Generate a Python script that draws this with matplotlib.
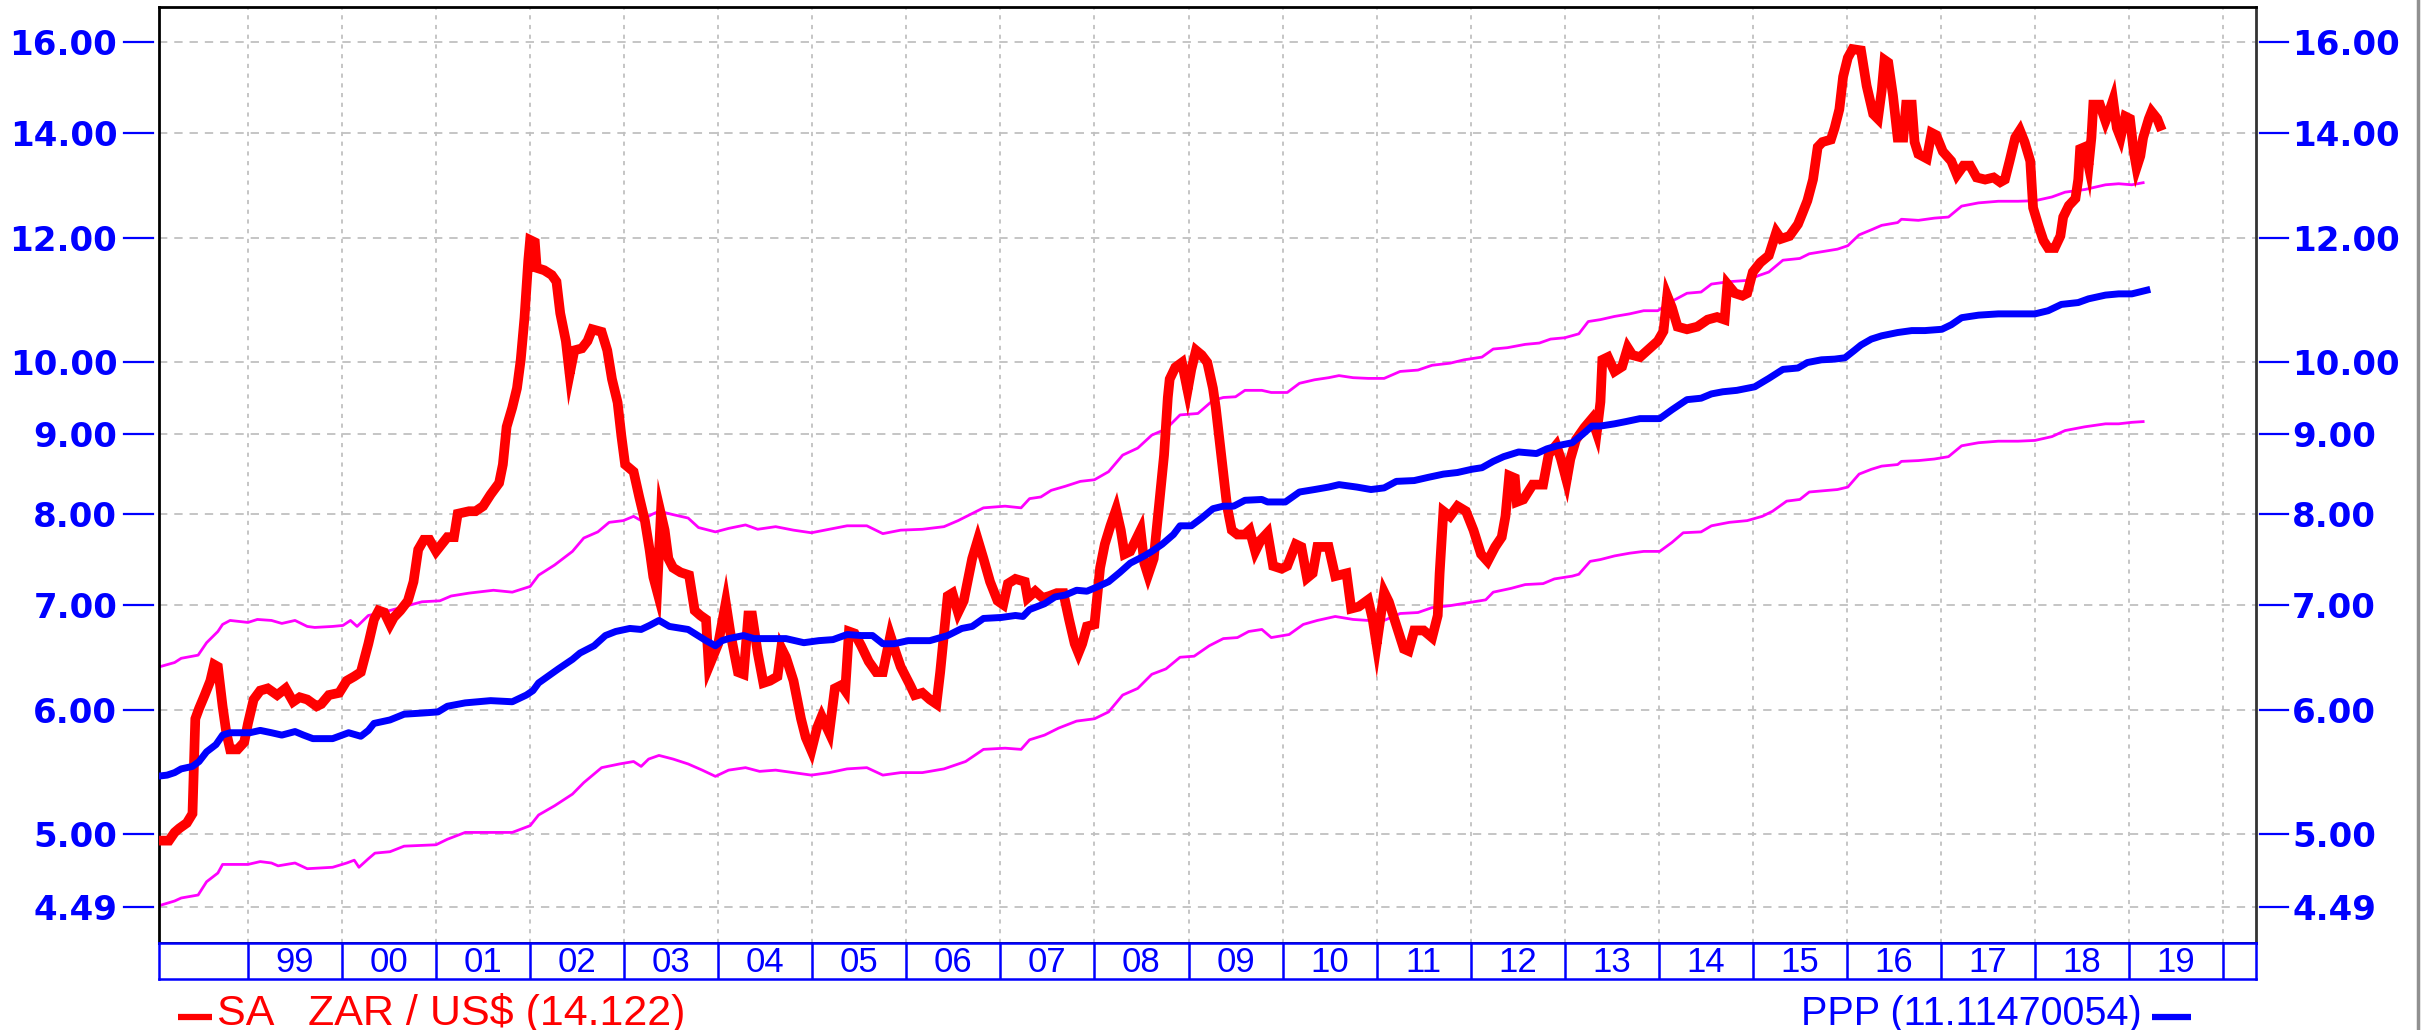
import matplotlib
matplotlib.use("Agg")
import matplotlib.pyplot as plt
import matplotlib.transforms as mtransforms
from matplotlib.lines import Line2D
from matplotlib.ticker import NullLocator

plt.rcParams['lines.scale_dashes'] = False

# ---------------- data (decimal years) ----------------
zar_dates = [1998.03, 1998.16, 1998.22, 1998.27, 1998.35, 1998.41, 1998.44, 1998.48, 1998.54, 1998.60,
             1998.64, 1998.68, 1998.73, 1998.77, 1998.81, 1998.89, 1998.96, 1999.00, 1999.06, 1999.13,
             1999.21, 1999.31, 1999.40, 1999.48, 1999.55, 1999.63, 1999.73, 1999.78, 1999.86, 1999.97,
             2000.05, 2000.13, 2000.20, 2000.28, 2000.34, 2000.39, 2000.45, 2000.51, 2000.55, 2000.62,
             2000.70, 2000.76, 2000.81, 2000.87, 2000.93, 2001.00, 2001.06, 2001.12, 2001.19, 2001.23,
             2001.35, 2001.42, 2001.50, 2001.58, 2001.67, 2001.71, 2001.75, 2001.81, 2001.86, 2001.90,
             2001.94, 2001.98, 2002.00, 2002.05, 2002.07, 2002.15, 2002.23, 2002.28, 2002.32, 2002.38,
             2002.42, 2002.47, 2002.55, 2002.61, 2002.66, 2002.76, 2002.82, 2002.87, 2002.93, 2002.97,
             2003.01, 2003.10, 2003.16, 2003.22, 2003.27, 2003.31, 2003.35, 2003.39, 2003.43, 2003.47,
             2003.52, 2003.60, 2003.69, 2003.75, 2003.81, 2003.87, 2003.90, 2004.00, 2004.08, 2004.13,
             2004.21, 2004.27, 2004.32, 2004.36, 2004.42, 2004.48, 2004.55, 2004.63, 2004.67, 2004.72,
             2004.80, 2004.88, 2004.93, 2004.99, 2005.05, 2005.10, 2005.18, 2005.24, 2005.31, 2005.35,
             2005.39, 2005.45, 2005.52, 2005.60, 2005.68, 2005.75, 2005.83, 2005.89, 2005.94, 2006.04,
             2006.09, 2006.17, 2006.25, 2006.32, 2006.36, 2006.44, 2006.49, 2006.55, 2006.61, 2006.70,
             2006.76, 2006.82, 2006.89, 2006.97, 2007.03, 2007.08, 2007.16, 2007.26, 2007.29, 2007.37,
             2007.45, 2007.52, 2007.60, 2007.67, 2007.73, 2007.79, 2007.83, 2007.87, 2007.92, 2008.00,
             2008.06, 2008.11, 2008.17, 2008.23, 2008.28, 2008.32, 2008.38, 2008.44, 2008.49, 2008.53,
             2008.57, 2008.63, 2008.68, 2008.74, 2008.78, 2008.80, 2008.86, 2008.93, 2008.99, 2009.03,
             2009.08, 2009.14, 2009.20, 2009.26, 2009.29, 2009.33, 2009.37, 2009.41, 2009.46, 2009.52,
             2009.60, 2009.65, 2009.71, 2009.77, 2009.84, 2009.90, 2009.99, 2010.05, 2010.14, 2010.20,
             2010.26, 2010.32, 2010.37, 2010.49, 2010.56, 2010.68, 2010.73, 2010.81, 2010.91, 2010.96,
             2011.00, 2011.08, 2011.13, 2011.21, 2011.29, 2011.34, 2011.40, 2011.50, 2011.59, 2011.65,
             2011.67, 2011.71, 2011.78, 2011.86, 2011.95, 2012.03, 2012.11, 2012.18, 2012.26, 2012.33,
             2012.37, 2012.41, 2012.47, 2012.49, 2012.56, 2012.66, 2012.77, 2012.83, 2012.91, 2012.96,
             2013.02, 2013.06, 2013.12, 2013.21, 2013.29, 2013.34, 2013.38, 2013.40, 2013.46, 2013.53,
             2013.61, 2013.67, 2013.72, 2013.80, 2013.88, 2013.99, 2014.05, 2014.09, 2014.14, 2014.20,
             2014.30, 2014.41, 2014.52, 2014.62, 2014.70, 2014.73, 2014.81, 2014.89, 2014.94, 2015.00,
             2015.08, 2015.17, 2015.25, 2015.30, 2015.39, 2015.48, 2015.53, 2015.58, 2015.64, 2015.69,
             2015.74, 2015.83, 2015.87, 2015.92, 2015.96, 2016.01, 2016.06, 2016.15, 2016.21, 2016.28,
             2016.33, 2016.37, 2016.40, 2016.44, 2016.49, 2016.54, 2016.60, 2016.63, 2016.69, 2016.72,
             2016.76, 2016.85, 2016.90, 2016.95, 2017.02, 2017.11, 2017.17, 2017.24, 2017.31, 2017.38,
             2017.47, 2017.56, 2017.63, 2017.68, 2017.73, 2017.79, 2017.84, 2017.89, 2017.95, 2017.98,
             2018.04, 2018.09, 2018.14, 2018.21, 2018.27, 2018.30, 2018.36, 2018.43, 2018.46, 2018.48,
             2018.53, 2018.57, 2018.60, 2018.62, 2018.69, 2018.75, 2018.78, 2018.83, 2018.87, 2018.91,
             2018.96, 2019.01, 2019.05, 2019.08, 2019.12, 2019.15, 2019.21, 2019.24, 2019.30, 2019.33]
zar_values = [4.95, 4.95, 5.01, 5.04, 5.08, 5.15, 5.92, 6.01, 6.13, 6.26,
              6.41, 6.39, 6.03, 5.80, 5.66, 5.66, 5.72, 5.88, 6.09, 6.17,
              6.19, 6.13, 6.19, 6.07, 6.11, 6.09, 6.03, 6.05, 6.13, 6.15,
              6.26, 6.30, 6.34, 6.61, 6.85, 6.94, 6.92, 6.80, 6.87, 6.94,
              7.04, 7.24, 7.59, 7.70, 7.70, 7.57, 7.65, 7.73, 7.73, 8.00,
              8.03, 8.03, 8.09, 8.23, 8.37, 8.60, 9.09, 9.35, 9.62, 10.03,
              10.67, 11.60, 11.96, 11.92, 11.48, 11.44, 11.36, 11.25, 10.74, 10.31,
              9.82, 10.17, 10.20, 10.31, 10.49, 10.45, 10.17, 9.75, 9.42, 8.97,
              8.60, 8.51, 8.20, 7.92, 7.59, 7.29, 7.14, 8.00, 7.81, 7.49,
              7.39, 7.34, 7.31, 6.94, 6.89, 6.85, 6.39, 6.61, 7.02, 6.71,
              6.34, 6.32, 6.89, 6.89, 6.52, 6.24, 6.26, 6.30, 6.57, 6.48,
              6.26, 5.92, 5.76, 5.65, 5.84, 5.94, 5.80, 6.19, 6.22, 6.17,
              6.73, 6.71, 6.59, 6.44, 6.34, 6.34, 6.69, 6.52, 6.39, 6.22,
              6.13, 6.15, 6.09, 6.05, 6.34, 7.09, 7.12, 6.92, 7.04, 7.49,
              7.70, 7.49, 7.24, 7.04, 7.00, 7.22, 7.27, 7.24, 7.07, 7.14,
              7.07, 7.09, 7.12, 7.12, 6.85, 6.61, 6.52, 6.61, 6.78, 6.80,
              7.39, 7.65, 7.86, 8.05, 7.81, 7.54, 7.57, 7.70, 7.81, 7.44,
              7.31, 7.49, 8.03, 8.72, 9.49, 9.75, 9.92, 9.99, 9.59, 9.89,
              10.17, 10.10, 9.99, 9.62, 9.35, 8.91, 8.48, 8.09, 7.81, 7.76,
              7.76, 7.81, 7.57, 7.70, 7.78, 7.41, 7.38, 7.41, 7.65, 7.62,
              7.28, 7.33, 7.62, 7.62, 7.30, 7.33, 6.96, 6.98, 7.05, 6.84,
              6.60, 7.13, 7.03, 6.79, 6.56, 6.54, 6.74, 6.74, 6.67, 6.89,
              7.33, 8.03, 7.97, 8.09, 8.03, 7.81, 7.54, 7.46, 7.62, 7.73,
              7.97, 8.46, 8.43, 8.14, 8.17, 8.35, 8.35, 8.73, 8.85, 8.67,
              8.40, 8.67, 8.92, 9.08, 9.20, 9.01, 9.43, 10.03, 10.07, 9.86,
              9.93, 10.21, 10.10, 10.07, 10.17, 10.31, 10.46, 11.02, 10.83, 10.53,
              10.49, 10.53, 10.64, 10.68, 10.64, 11.21, 11.06, 11.02, 11.06, 11.41,
              11.57, 11.69, 12.10, 11.98, 12.03, 12.24, 12.45, 12.67, 13.07, 13.71,
              13.81, 13.86, 14.10, 14.49, 15.20, 15.63, 15.83, 15.80, 15.00, 14.39,
              14.29, 14.89, 15.58, 15.52, 14.79, 13.90, 13.90, 14.59, 14.59, 13.81,
              13.57, 13.48, 14.00, 13.95, 13.62, 13.43, 13.16, 13.34, 13.34, 13.11,
              13.07, 13.11, 13.02, 13.07, 13.43, 13.90, 14.05, 13.81, 13.43, 12.54,
              12.20, 11.95, 11.82, 11.82, 12.03, 12.37, 12.58, 12.71, 13.07, 13.67,
              13.71, 13.34, 13.90, 14.59, 14.59, 14.24, 14.39, 14.69, 14.10, 13.90,
              14.34, 14.29, 13.62, 13.30, 13.53, 13.90, 14.29, 14.44, 14.29, 14.14]

ppp_dates = [1998.03, 1998.14, 1998.22, 1998.29, 1998.41, 1998.48, 1998.56, 1998.66, 1998.73, 1998.81,
             1998.90, 1999.02, 1999.13, 1999.25, 1999.36, 1999.50, 1999.59, 1999.69, 1999.90, 2000.07,
             2000.20, 2000.28, 2000.34, 2000.51, 2000.66, 2000.85, 2001.02, 2001.12, 2001.31, 2001.58,
             2001.81, 2001.96, 2002.03, 2002.09, 2002.30, 2002.45, 2002.53, 2002.68, 2002.80, 2002.91,
             2003.06, 2003.18, 2003.27, 2003.37, 2003.48, 2003.68, 2003.87, 2003.97, 2004.04, 2004.11,
             2004.27, 2004.38, 2004.57, 2004.72, 2004.91, 2005.07, 2005.22, 2005.37, 2005.52, 2005.64,
             2005.75, 2005.87, 2006.02, 2006.25, 2006.44, 2006.59, 2006.70, 2006.82, 2007.01, 2007.16,
             2007.24, 2007.31, 2007.47, 2007.58, 2007.69, 2007.81, 2007.92, 2008.04, 2008.15, 2008.27,
             2008.38, 2008.53, 2008.61, 2008.72, 2008.84, 2008.91, 2009.03, 2009.14, 2009.26, 2009.37,
             2009.48, 2009.60, 2009.78, 2009.84, 2010.03, 2010.18, 2010.34, 2010.49, 2010.60, 2010.79,
             2010.94, 2011.08, 2011.21, 2011.40, 2011.55, 2011.71, 2011.86, 2012.01, 2012.12, 2012.24,
             2012.35, 2012.51, 2012.70, 2012.81, 2012.92, 2013.08, 2013.19, 2013.29, 2013.38, 2013.53,
             2013.65, 2013.80, 2014.01, 2014.14, 2014.30, 2014.45, 2014.56, 2014.68, 2014.83, 2015.02,
             2015.17, 2015.32, 2015.48, 2015.58, 2015.73, 2015.87, 2015.98, 2016.08, 2016.15, 2016.26,
             2016.37, 2016.54, 2016.69, 2016.83, 2017.01, 2017.11, 2017.22, 2017.40, 2017.61, 2017.82,
             2018.00, 2018.14, 2018.28, 2018.46, 2018.57, 2018.75, 2018.89, 2019.03, 2019.19]
ppp_values = [5.44, 5.45, 5.47, 5.50, 5.52, 5.56, 5.64, 5.70, 5.78, 5.80,
              5.80, 5.80, 5.82, 5.80, 5.78, 5.81, 5.78, 5.75, 5.75, 5.80,
              5.77, 5.82, 5.88, 5.91, 5.96, 5.97, 5.98, 6.03, 6.06, 6.08,
              6.07, 6.13, 6.17, 6.24, 6.37, 6.46, 6.52, 6.59, 6.69, 6.73,
              6.76, 6.75, 6.79, 6.84, 6.78, 6.75, 6.64, 6.59, 6.64, 6.66,
              6.69, 6.66, 6.66, 6.66, 6.62, 6.64, 6.65, 6.70, 6.69, 6.69,
              6.61, 6.61, 6.64, 6.64, 6.69, 6.76, 6.78, 6.86, 6.87, 6.89,
              6.88, 6.95, 7.01, 7.08, 7.10, 7.15, 7.14, 7.19, 7.24, 7.34,
              7.44, 7.52, 7.57, 7.65, 7.76, 7.86, 7.86, 7.95, 8.06, 8.09,
              8.09, 8.16, 8.17, 8.14, 8.14, 8.26, 8.29, 8.32, 8.35, 8.32,
              8.29, 8.31, 8.39, 8.40, 8.44, 8.48, 8.50, 8.54, 8.56, 8.64,
              8.70, 8.76, 8.74, 8.80, 8.84, 8.88, 8.99, 9.10, 9.10, 9.13,
              9.16, 9.20, 9.20, 9.32, 9.46, 9.48, 9.54, 9.57, 9.59, 9.64,
              9.76, 9.89, 9.91, 9.99, 10.03, 10.04, 10.06, 10.17, 10.25, 10.34,
              10.39, 10.44, 10.47, 10.47, 10.49, 10.56, 10.67, 10.71, 10.73, 10.73,
              10.73, 10.78, 10.88, 10.91, 10.97, 11.03, 11.05, 11.05, 11.11]

upper_dates = [1998.06, 1998.22, 1998.29, 1998.47, 1998.56, 1998.68, 1998.73, 1998.81, 1999.00, 1999.10,
               1999.25, 1999.36, 1999.50, 1999.63, 1999.71, 1999.90, 2000.01, 2000.09, 2000.16, 2000.28,
               2000.43, 2000.66, 2000.85, 2001.04, 2001.16, 2001.35, 2001.61, 2001.81, 2002.00, 2002.09,
               2002.26, 2002.45, 2002.57, 2002.72, 2002.84, 2002.99, 2003.10, 2003.18, 2003.29, 2003.37,
               2003.52, 2003.68, 2003.79, 2003.97, 2004.11, 2004.29, 2004.42, 2004.61, 2004.80, 2004.99,
               2005.18, 2005.37, 2005.58, 2005.75, 2005.94, 2006.17, 2006.40, 2006.55, 2006.82, 2007.05,
               2007.22, 2007.31, 2007.43, 2007.54, 2007.69, 2007.85, 2008.00, 2008.15, 2008.30, 2008.46,
               2008.61, 2008.76, 2008.91, 2009.10, 2009.26, 2009.37, 2009.50, 2009.60, 2009.78, 2009.88,
               2010.05, 2010.18, 2010.34, 2010.49, 2010.60, 2010.75, 2010.91, 2011.08, 2011.25, 2011.44,
               2011.59, 2011.78, 2011.93, 2012.12, 2012.24, 2012.39, 2012.58, 2012.73, 2012.85, 2013.00,
               2013.15, 2013.25, 2013.38, 2013.53, 2013.69, 2013.84, 2013.99, 2014.14, 2014.30, 2014.45,
               2014.56, 2014.75, 2014.94, 2015.06, 2015.17, 2015.32, 2015.50, 2015.60, 2015.90, 2016.01,
               2016.13, 2016.26, 2016.37, 2016.54, 2016.58, 2016.76, 2016.93, 2017.08, 2017.22, 2017.40,
               2017.61, 2017.82, 2018.00, 2018.18, 2018.32, 2018.53, 2018.75, 2018.89, 2019.03, 2019.15]
upper_values = [6.39, 6.43, 6.47, 6.50, 6.62, 6.73, 6.80, 6.84, 6.82, 6.85,
                6.84, 6.81, 6.84, 6.78, 6.77, 6.78, 6.79, 6.84, 6.78, 6.89,
                6.92, 6.98, 7.03, 7.04, 7.09, 7.12, 7.15, 7.13, 7.19, 7.31,
                7.42, 7.57, 7.72, 7.79, 7.90, 7.92, 7.97, 7.92, 7.99, 8.03,
                7.99, 7.95, 7.84, 7.79, 7.83, 7.87, 7.82, 7.85, 7.81, 7.78,
                7.82, 7.86, 7.86, 7.77, 7.81, 7.82, 7.85, 7.92, 8.07, 8.09,
                8.07, 8.18, 8.20, 8.28, 8.33, 8.39, 8.41, 8.51, 8.72, 8.81,
                8.98, 9.06, 9.25, 9.27, 9.45, 9.49, 9.50, 9.59, 9.59, 9.56,
                9.56, 9.69, 9.74, 9.77, 9.80, 9.77, 9.76, 9.76, 9.86, 9.88,
                9.95, 9.98, 10.03, 10.07, 10.19, 10.21, 10.26, 10.28, 10.34, 10.36,
                10.42, 10.61, 10.64, 10.69, 10.73, 10.78, 10.78, 10.93, 11.06, 11.08,
                11.21, 11.25, 11.27, 11.35, 11.41, 11.61, 11.64, 11.72, 11.80, 11.86,
                12.05, 12.14, 12.22, 12.27, 12.33, 12.31, 12.35, 12.37, 12.57, 12.63,
                12.66, 12.66, 12.67, 12.74, 12.83, 12.88, 12.97, 12.99, 12.97, 13.01]

lower_dates = [1998.06, 1998.22, 1998.29, 1998.47, 1998.56, 1998.68, 1998.73, 1999.00, 1999.13, 1999.25,
               1999.32, 1999.50, 1999.63, 1999.90, 2000.05, 2000.13, 2000.18, 2000.28, 2000.35, 2000.51,
               2000.66, 2001.00, 2001.12, 2001.31, 2001.50, 2001.81, 2002.00, 2002.09, 2002.26, 2002.45,
               2002.57, 2002.76, 2002.95, 2003.10, 2003.18, 2003.26, 2003.37, 2003.52, 2003.68, 2003.83,
               2003.97, 2004.11, 2004.29, 2004.44, 2004.61, 2004.80, 2004.99, 2005.18, 2005.37, 2005.58,
               2005.75, 2005.94, 2006.17, 2006.40, 2006.63, 2006.82, 2007.05, 2007.22, 2007.31, 2007.47,
               2007.62, 2007.81, 2008.00, 2008.15, 2008.30, 2008.46, 2008.61, 2008.76, 2008.91, 2009.06,
               2009.22, 2009.37, 2009.52, 2009.64, 2009.78, 2009.88, 2010.07, 2010.22, 2010.37, 2010.56,
               2010.75, 2010.91, 2011.08, 2011.25, 2011.44, 2011.59, 2011.78, 2011.97, 2012.16, 2012.24,
               2012.43, 2012.58, 2012.77, 2012.89, 2013.08, 2013.15, 2013.27, 2013.38, 2013.53, 2013.69,
               2013.84, 2014.01, 2014.14, 2014.26, 2014.45, 2014.56, 2014.75, 2014.94, 2015.10, 2015.21,
               2015.36, 2015.50, 2015.60, 2015.90, 2016.01, 2016.13, 2016.26, 2016.37, 2016.54, 2016.58,
               2016.76, 2016.93, 2017.08, 2017.22, 2017.40, 2017.61, 2017.82, 2018.00, 2018.18, 2018.32,
               2018.53, 2018.75, 2018.89, 2019.03, 2019.15]
lower_values = [4.50, 4.53, 4.55, 4.57, 4.66, 4.72, 4.78, 4.78, 4.80, 4.79,
                4.77, 4.79, 4.75, 4.76, 4.79, 4.81, 4.76, 4.82, 4.86, 4.87,
                4.91, 4.92, 4.96, 5.01, 5.01, 5.01, 5.06, 5.14, 5.21, 5.30,
                5.39, 5.51, 5.54, 5.56, 5.52, 5.58, 5.61, 5.58, 5.54, 5.49,
                5.44, 5.49, 5.51, 5.48, 5.49, 5.47, 5.45, 5.47, 5.50, 5.51,
                5.45, 5.47, 5.47, 5.50, 5.56, 5.66, 5.67, 5.66, 5.74, 5.78,
                5.84, 5.90, 5.92, 5.98, 6.13, 6.19, 6.32, 6.37, 6.48, 6.49,
                6.59, 6.66, 6.67, 6.73, 6.75, 6.67, 6.70, 6.80, 6.84, 6.88,
                6.85, 6.84, 6.84, 6.91, 6.92, 6.97, 6.99, 7.02, 7.05, 7.13,
                7.17, 7.21, 7.22, 7.27, 7.30, 7.32, 7.46, 7.48, 7.52, 7.55,
                7.57, 7.57, 7.67, 7.78, 7.79, 7.86, 7.90, 7.92, 7.97, 8.03,
                8.15, 8.17, 8.26, 8.29, 8.32, 8.48, 8.54, 8.58, 8.60, 8.64,
                8.65, 8.67, 8.70, 8.84, 8.88, 8.90, 8.90, 8.91, 8.96, 9.04,
                9.09, 9.13, 9.13, 9.15, 9.16]

y_ticks = [4.49, 5.0, 6.0, 7.0, 8.0, 9.0, 10.0, 12.0, 14.0, 16.0]
y_tick_labels = ["4.49", "5.00", "6.00", "7.00", "8.00", "9.00", "10.00", "12.00", "14.00", "16.00"]
year_starts = list(range(1999, 2021))
year_labels = ["99", "00", "01", "02", "03", "04", "05", "06", "07", "08", "09", "10",
               "11", "12", "13", "14", "15", "16", "17", "18", "19"]
legend_left = "SA   ZAR / US$ (14.122)"
legend_right = "PPP (11.11470054)"

# ---------------- layout ----------------
W, H = 2428, 1030
fig = plt.figure(figsize=(W / 100, H / 100), dpi=100)
fig.patch.set_facecolor("white")
L, R, T, B = 159, 2256, 7, 943
BAND_B = 979
BLUE = "#0000ff"
RED = "#ff0000"
MAG = "#ff00ff"
GRID = "#c0c0c0"
TICK_FS = 24.5

ax = fig.add_axes([L / W, 1 - B / H, (R - L) / W, (B - T) / H])
ax.set_yscale("log")
XMIN, XMAX = 1998.054, 2020.35
YMIN, YMAX = 4.259, 16.84
ax.set_xlim(XMIN, XMAX)
ax.set_ylim(YMIN, YMAX)
ax.set_xticks([])
ax.yaxis.set_minor_locator(NullLocator())
ax.set_yticks(y_ticks)
ax.set_yticklabels(y_tick_labels)
ax.tick_params(axis="y", length=0, pad=30, labelcolor=BLUE, labelsize=TICK_FS)
for lbl in ax.get_yticklabels():
    lbl.set_fontweight("bold")
    lbl.set_fontfamily("DejaVu Sans")

ax2 = ax.twinx()
ax2.set_yscale("log")
ax2.set_ylim(YMIN, YMAX)
ax2.yaxis.set_minor_locator(NullLocator())
ax2.set_yticks(y_ticks)
ax2.set_yticklabels(y_tick_labels)
ax2.tick_params(axis="y", length=0, pad=26, labelcolor=BLUE, labelsize=TICK_FS)
for lbl in ax2.get_yticklabels():
    lbl.set_fontweight("bold")
    lbl.set_fontfamily("DejaVu Sans")
for a in (ax, ax2):
    for s in a.spines.values():
        s.set_visible(False)

for name in ("left", "top", "bottom"):
    ax.spines[name].set_visible(True)
    ax.spines[name].set_color("black")
    ax.spines[name].set_linewidth(2)
ax.spines["right"].set_visible(True)
ax.spines["right"].set_color("#333333")
ax.spines["right"].set_linewidth(2)

# grid
for v in y_ticks:
    ax.axhline(v, color=GRID, lw=1.3, dashes=(6, 5), zorder=0)
for yr in year_starts:
    ax.axvline(yr, color=GRID, lw=1.3, dashes=(3, 4), zorder=0)

# tick marks drawn outside the frame (they stop short of the frame)
axw = R - L
trans = mtransforms.blended_transform_factory(ax.transAxes, ax.transData)
for v in y_ticks:
    ax.add_line(Line2D([-(L - 124) / axw, -(L - 153) / axw], [v, v], transform=trans,
                       color=BLUE, lw=1.6, clip_on=False))
    ax.add_line(Line2D([1 + 4 / axw, 1 + 32 / axw], [v, v], transform=trans,
                       color=BLUE, lw=1.6, clip_on=False))

# series
ax.plot(upper_dates, upper_values, color=MAG, lw=2.0, zorder=2)
ax.plot(lower_dates, lower_values, color=MAG, lw=2.0, zorder=2)
ax.plot(zar_dates, zar_values, color=RED, lw=7.0, zorder=3, solid_joinstyle="miter")
ax.plot(ppp_dates, ppp_values, color=BLUE, lw=5.0, zorder=4)

# date band
bx = fig.add_axes([L / W, 1 - BAND_B / H, (R - L) / W, (BAND_B - B) / H])
bx.set_xlim(XMIN, XMAX)
bx.set_ylim(0, 1)
bx.set_xticks([])
bx.set_yticks([])
for s in bx.spines.values():
    s.set_color(BLUE)
    s.set_linewidth(1.8)
for yr in year_starts:
    bx.axvline(yr, color=BLUE, lw=1.8)
for yr, lab in zip(year_starts, year_labels):
    bx.text(yr + 0.5, 0.47, lab, ha="center", va="center", color=BLUE,
            fontsize=25, family="Liberation Sans")

# legend entries under the chart
fig.add_artist(Line2D([178 / W, 212 / W], [1 - 1017 / H, 1 - 1017 / H], color=RED, lw=4.5,
                      solid_capstyle="butt"))
fig.text(217 / W, 1 - 1014 / H, legend_left, color=RED, fontsize=31,
         family="Liberation Sans", ha="left", va="center")
fig.text(2142 / W, 1 - 1014 / H, legend_right, color=BLUE, fontsize=28.5,
         family="Liberation Sans", ha="right", va="center")
fig.add_artist(Line2D([2152 / W, 2191 / W], [1 - 1017 / H, 1 - 1017 / H], color=BLUE, lw=4.5,
                      solid_capstyle="butt"))

# right border of the picture
fig.add_artist(Line2D([2418 / W, 2418 / W], [0, 1], color="#909090", lw=2.5))

fig.savefig("out.png", dpi=100, facecolor="white")
